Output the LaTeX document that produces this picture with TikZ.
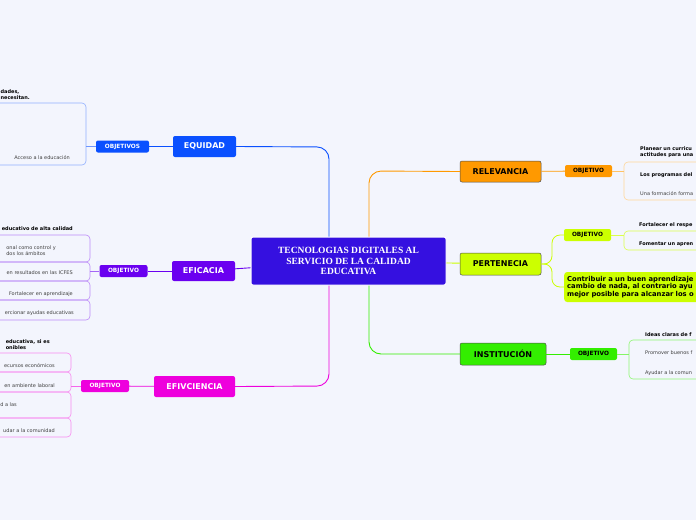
\documentclass[tikz,border=0pt]{standalone}
\usepackage{fontspec}
\setmainfont{DejaVu Sans}
\newfontfamily\serifbold{Liberation Serif}
\usetikzlibrary{positioning}
\definecolor{bg}{HTML}{F3F5FD}
\definecolor{cmain}{HTML}{3510E0}
\definecolor{cequ}{HTML}{0A50FF}
\definecolor{cefi}{HTML}{6A00F0}
\definecolor{cefv}{HTML}{EE00DD}
\definecolor{crel}{HTML}{FF9900}
\definecolor{cper}{HTML}{CCFF00}
\definecolor{cins}{HTML}{33EE00}

\begin{document}
\begin{tikzpicture}[
    x=1pt, y=-1pt,
    topic/.style={rectangle, rounded corners=2pt, font=\bfseries\fontsize{8}{9}\selectfont, inner sep=0pt},
    sub/.style={rectangle, rounded corners=2pt, font=\bfseries\fontsize{5.8}{6.5}\selectfont, inner sep=0pt, minimum width=48pt, minimum height=12pt},
    leaf/.style={rectangle, rounded corners=4pt, draw, line width=0.6pt, inner sep=0pt},
    ltext/.style={font=\fontsize{5}{6.2}\selectfont, text=black!75, inner sep=0pt, align=left},
    btext/.style={font=\bfseries\fontsize{5}{6.2}\selectfont, inner sep=0pt, align=left},
    link/.style={line width=0.9pt, rounded corners=12pt}
]
\useasboundingbox (0,0) rectangle (696,520);
\fill[bg] (0,0) rectangle (696,520);
\clip (0,0) rectangle (696,520);

% central topic
\node[rectangle, rounded corners=2pt, fill=cmain, draw=white, line width=1pt, minimum width=195pt, minimum height=48pt, align=center, text=white, font=\serifbold\bfseries\fontsize{9.5}{10.5}\selectfont] (main) at (348.5,261) {TECNOLOGIAS DIGITALES AL\\SERVICIO DE LA CALIDAD\\EDUCATIVA};

% left branches
\node[topic, fill=cequ, text=white, minimum width=63pt, minimum height=21pt] (equidad) at (204.5,146.5) {EQUIDAD};
\node[sub, fill=cequ, text=white, minimum width=53pt] (objequ) at (122.5,146.5) {OBJETIVOS};
\node[leaf, draw=cequ!45, minimum width=120pt, minimum height=62pt] (lequ) at (26,134) {};
\node[btext, anchor=south east] (tequ) at (30,100) {dades,\\necesitan.};
\node[ltext, anchor=east] (tequ2) at (70,158) {Acceso a la educación};

\node[topic, fill=cefi, text=white, minimum width=63pt, minimum height=20pt] (eficacia) at (203.5,271) {EFICACIA};
\node[sub, fill=cefi, text=white] (objefi) at (123.5,271) {OBJETIVO};
\node[btext, anchor=east] (tefi0) at (73,229) {educativo de alta calidad};
\node[leaf, draw=cefi!45, minimum width=120pt, minimum height=27pt] (lefi1) at (30,248.5) {};
\node[leaf, draw=cefi!45, minimum width=120pt, minimum height=19pt] (lefi2) at (30,271.5) {};
\node[leaf, draw=cefi!45, minimum width=120pt, minimum height=19pt] (lefi3) at (30,290.5) {};
\node[leaf, draw=cefi!45, minimum width=120pt, minimum height=20pt] (lefi4) at (30,310) {};
\node[ltext, anchor=east] (tefi1) at (56,251) {onal como control y\\dos los ámbitos};
\node[ltext, anchor=east] (tefi2) at (73,273) {en resultados en las ICFES};
\node[ltext, anchor=east] (tefi3) at (73,294) {Fortalecer en aprendizaje};
\node[ltext, anchor=east] (tefi4) at (74,313) {ercionar ayudas educativas};

\node[topic, fill=cefv, text=white, minimum width=81pt, minimum height=21pt] (efivciencia) at (194.5,386.5) {EFIVCIENCIA};
\node[sub, fill=cefv, text=white] (objefv) at (105,386) {OBJETIVO};
\node[btext, anchor=south east] (tefv0) at (50,350) {educativa, si es\\onibles};
\node[leaf, draw=cefv!45, minimum width=120pt, minimum height=19pt] (lefv1) at (11,362.5) {};
\node[leaf, draw=cefv!45, minimum width=120pt, minimum height=20pt] (lefv2) at (11,382) {};
\node[leaf, draw=cefv!45, minimum width=120pt, minimum height=26pt] (lefv3) at (11,405) {};
\node[leaf, draw=cefv!45, minimum width=120pt, minimum height=19pt] (lefv4) at (11,427.5) {};
\node[ltext, anchor=east] (tefv1) at (55,366) {ecursos económicos};
\node[ltext, anchor=east] (tefv2) at (55,386) {en ambiente laboral};
\node[ltext, anchor=east] (tefv3) at (17,405) {d a las};
\node[ltext, anchor=east] (tefv4) at (55,431) {udar a la comunidad};

% right branches
\node[topic, fill=crel, draw=black!70, line width=0.5pt, minimum width=81pt, minimum height=21pt] (relevancia) at (500.5,171.5) {RELEVANCIA};
\node[sub, fill=crel, minimum width=47pt] (objrel) at (588.5,171) {OBJETIVO};
\node[btext, anchor=south west] (trel0) at (640,158) {Planear un curricu\\actitudes para una};
\node[btext, anchor=west] (trel1) at (640,175) {Los programas del};
\node[leaf, draw=crel!40, minimum width=120pt, minimum height=38pt] (lrel) at (684,181) {};
\node[ltext, anchor=west] (trel2) at (640,194) {Una formación forma};

\node[topic, fill=cper, draw=black!70, line width=0.5pt, minimum width=81pt, minimum height=22pt] (pertenecia) at (500.5,264) {PERTENECIA};
\node[sub, fill=cper, minimum width=47pt] (objper) at (587.5,235) {OBJETIVO};
\node[btext, anchor=west] (tper0) at (639,225) {Fortalecer el respe};
\node[leaf, draw=cper!70, minimum width=120pt, minimum height=19pt] (lper) at (684,240.5) {};
\node[btext, anchor=west] (tper1) at (639,244) {Fomentar un apren};
\node[rectangle, rounded corners=3pt, fill=cper, minimum width=150pt, minimum height=30pt, inner sep=3pt, anchor=west, font=\bfseries\fontsize{6.8}{7.6}\selectfont, align=left, text width=150pt] (contribuir) at (564,287) {Contribuir a un buen aprendizaje\\cambio de nada, al contrario ayu\\mejor posible para alcanzar los o};

\node[topic, fill=cins, draw=black!70, line width=0.5pt, minimum width=86pt, minimum height=22pt] (institucion) at (503,354) {INSTITUCIÓN};
\node[sub, fill=cins, minimum width=47pt] (objins) at (593.5,354) {OBJETIVO};
\node[btext, anchor=west] (tins0) at (645,335) {Ideas claras de f};
\node[leaf, draw=cins!55, minimum width=120pt, minimum height=39pt] (lins) at (689,359.5) {};
\node[ltext, anchor=west] (tins1) at (645,353) {Promover buenos f};
\node[ltext, anchor=west] (tins2) at (645,373) {Ayudar a la comun};

% connectors
\draw[link, cequ] (main.north west -| 329,0) -- (329,147) -- (equidad.east);
\draw[cequ, line width=0.8pt] (equidad) -- (objequ);
\draw[cequ!60, line width=0.6pt] (objequ) -- (lequ.east |- objequ);
\draw[cefi, line width=0.9pt] (main) -- (eficacia);
\draw[cefi, line width=0.8pt] (eficacia) -- (objefi);
\draw[cefi!60, line width=0.6pt] (objefi) -- (lefi2.east |- objefi);
\draw[link, cefv] (main.south west -| 329,0) -- (329,386) -- (efivciencia.east);
\draw[cefv, line width=0.8pt] (efivciencia) -- (objefv);
\draw[cefv!60, line width=0.6pt] (objefv) -- (lefv2.east |- objefv);
\draw[link, crel] (main.north west -| 369,0) -- (369,171) -- (relevancia.west);
\draw[crel, line width=0.8pt] (relevancia) -- (objrel);
\draw[crel!60, line width=0.6pt] (objrel) -- (lrel.west |- objrel);
\draw[cper, line width=0.9pt] (main) -- (pertenecia);
\draw[cper, line width=0.8pt, rounded corners=8pt] (pertenecia.east) -- (552,264) -- (552,235) -- (objper.west);
\draw[cper, line width=0.8pt, rounded corners=8pt] (pertenecia.east) -- (552,264) -- (552,287) -- (contribuir.west);
\draw[cper!70, line width=0.6pt] (objper) -- (lper.west |- objper);
\draw[link, cins] (main.south west -| 369,0) -- (369,354) -- (institucion.west);
\draw[cins, line width=0.8pt] (institucion) -- (objins);
\draw[cins!60, line width=0.6pt] (objins) -- (lins.west |- objins);
\end{tikzpicture}
\end{document}
